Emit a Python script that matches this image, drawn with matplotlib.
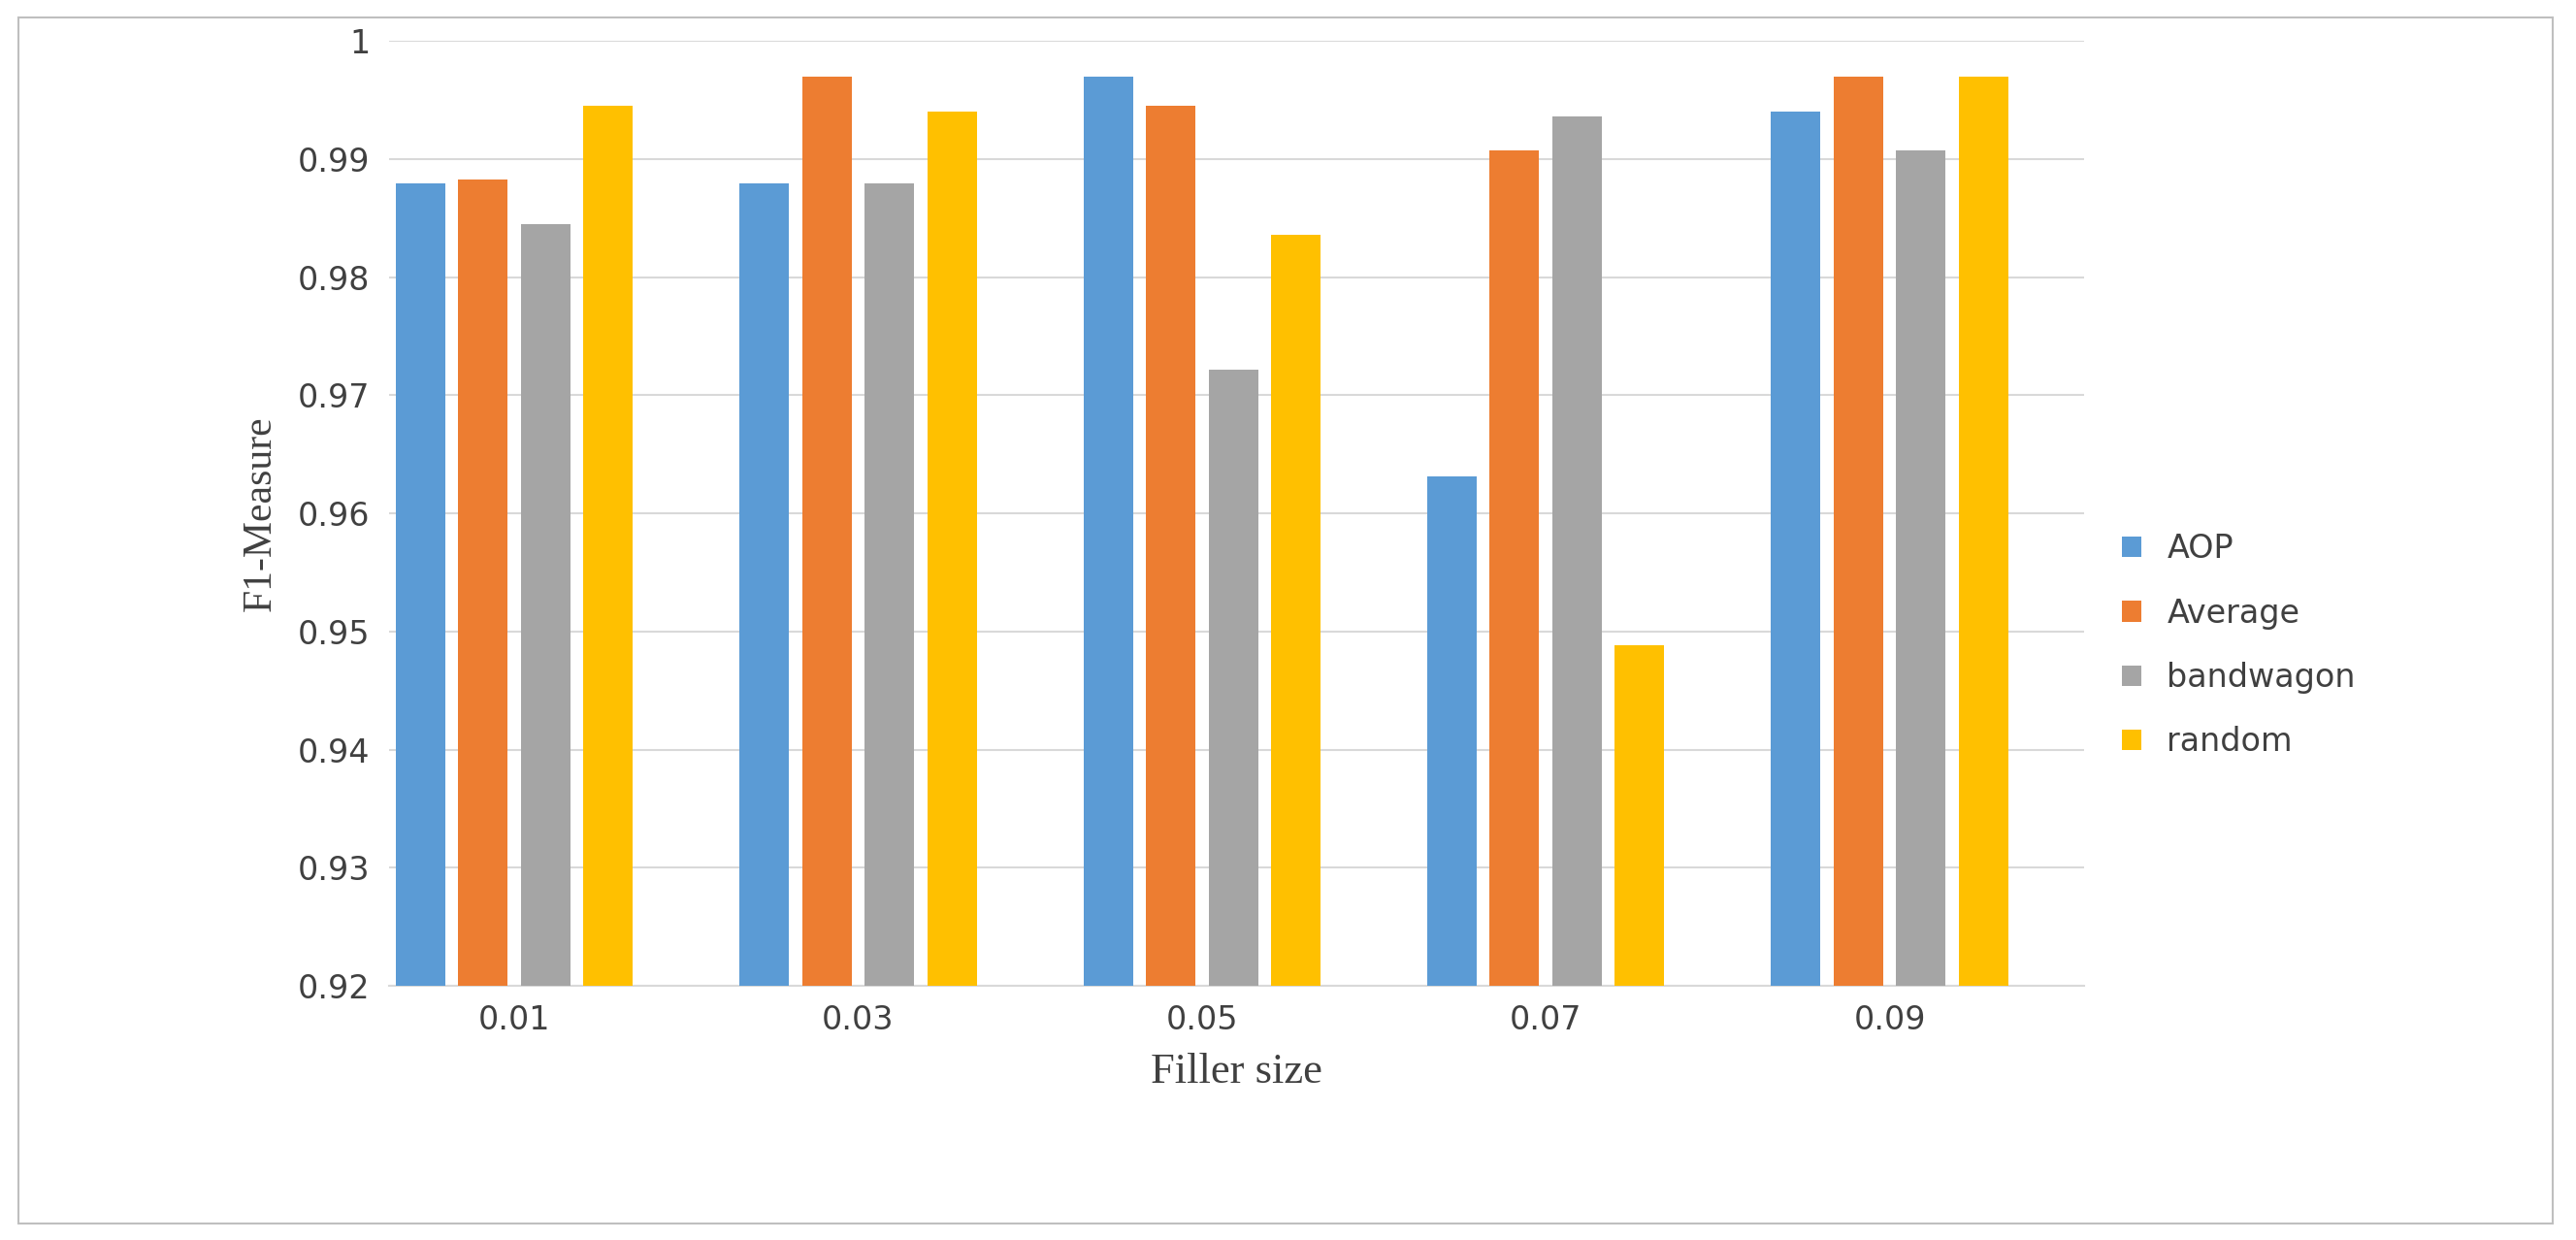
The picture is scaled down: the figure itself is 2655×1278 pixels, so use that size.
import matplotlib.pyplot as plt
import numpy as np
from matplotlib.patches import Rectangle

sizes = ['0.01', '0.03', '0.05', '0.07', '0.09']
series = ['AOP', 'Average', 'bandwagon', 'random']
aop = [0.9879, 0.9879, 0.9970, 0.9631, 0.9940]
average = [0.9883, 0.9970, 0.9945, 0.9907, 0.9970]
bandwagon = [0.9845, 0.9879, 0.9722, 0.9936, 0.9907]
random_ = [0.9945, 0.9940, 0.9836, 0.9488, 0.9970]
colors = ['#5B9BD5', '#ED7D31', '#A5A5A5', '#FFC000']

fig = plt.figure(figsize=(26.55, 12.78), dpi=100)
fig.patches.append(Rectangle((0.007, 0.013), 0.984, 0.973, transform=fig.transFigure,
                             fill=False, edgecolor='#BFBFBF', linewidth=1.5))
ax = fig.add_axes([0.151, 0.205, 0.658, 0.762])

x = np.arange(len(sizes))
width = 0.144
step = 0.182
for i, (name, vals) in enumerate(zip(series, [aop, average, bandwagon, random_])):
    ax.bar(x + (i - 1.5) * step, vals, width, color=colors[i], label=name, zorder=3)

ax.set_ylim(0.92, 1.0)
ax.set_xlim(-0.364, 4.565)
ax.set_yticks(np.arange(0.92, 1.0001, 0.01))
ax.set_yticklabels(['0.92', '0.93', '0.94', '0.95', '0.96', '0.97', '0.98', '0.99', '1'])
ax.set_xticks(x)
ax.set_xticklabels(sizes)
ax.tick_params(labelsize=24, length=0, colors='#404040', pad=14)
ax.grid(True, axis='y', color='#D9D9D9', linewidth=1.5, zorder=0)
for s in ['top', 'right', 'left']:
    ax.spines[s].set_visible(False)
ax.spines['bottom'].set_color('#D9D9D9')
ax.spines['bottom'].set_linewidth(1.5)

ax.set_xlabel('Filler size', fontsize=32, family='Liberation Serif', color='#404040', labelpad=12)
ax.set_ylabel('F1-Measure', fontsize=30, family='Liberation Serif', color='#404040', labelpad=14)

ax.legend(loc='center left', bbox_to_anchor=(1.005, 0.36), frameon=False, fontsize=24,
          handlelength=0.6, handleheight=0.6, labelspacing=1.0, labelcolor='#404040')

plt.savefig('out.png')
